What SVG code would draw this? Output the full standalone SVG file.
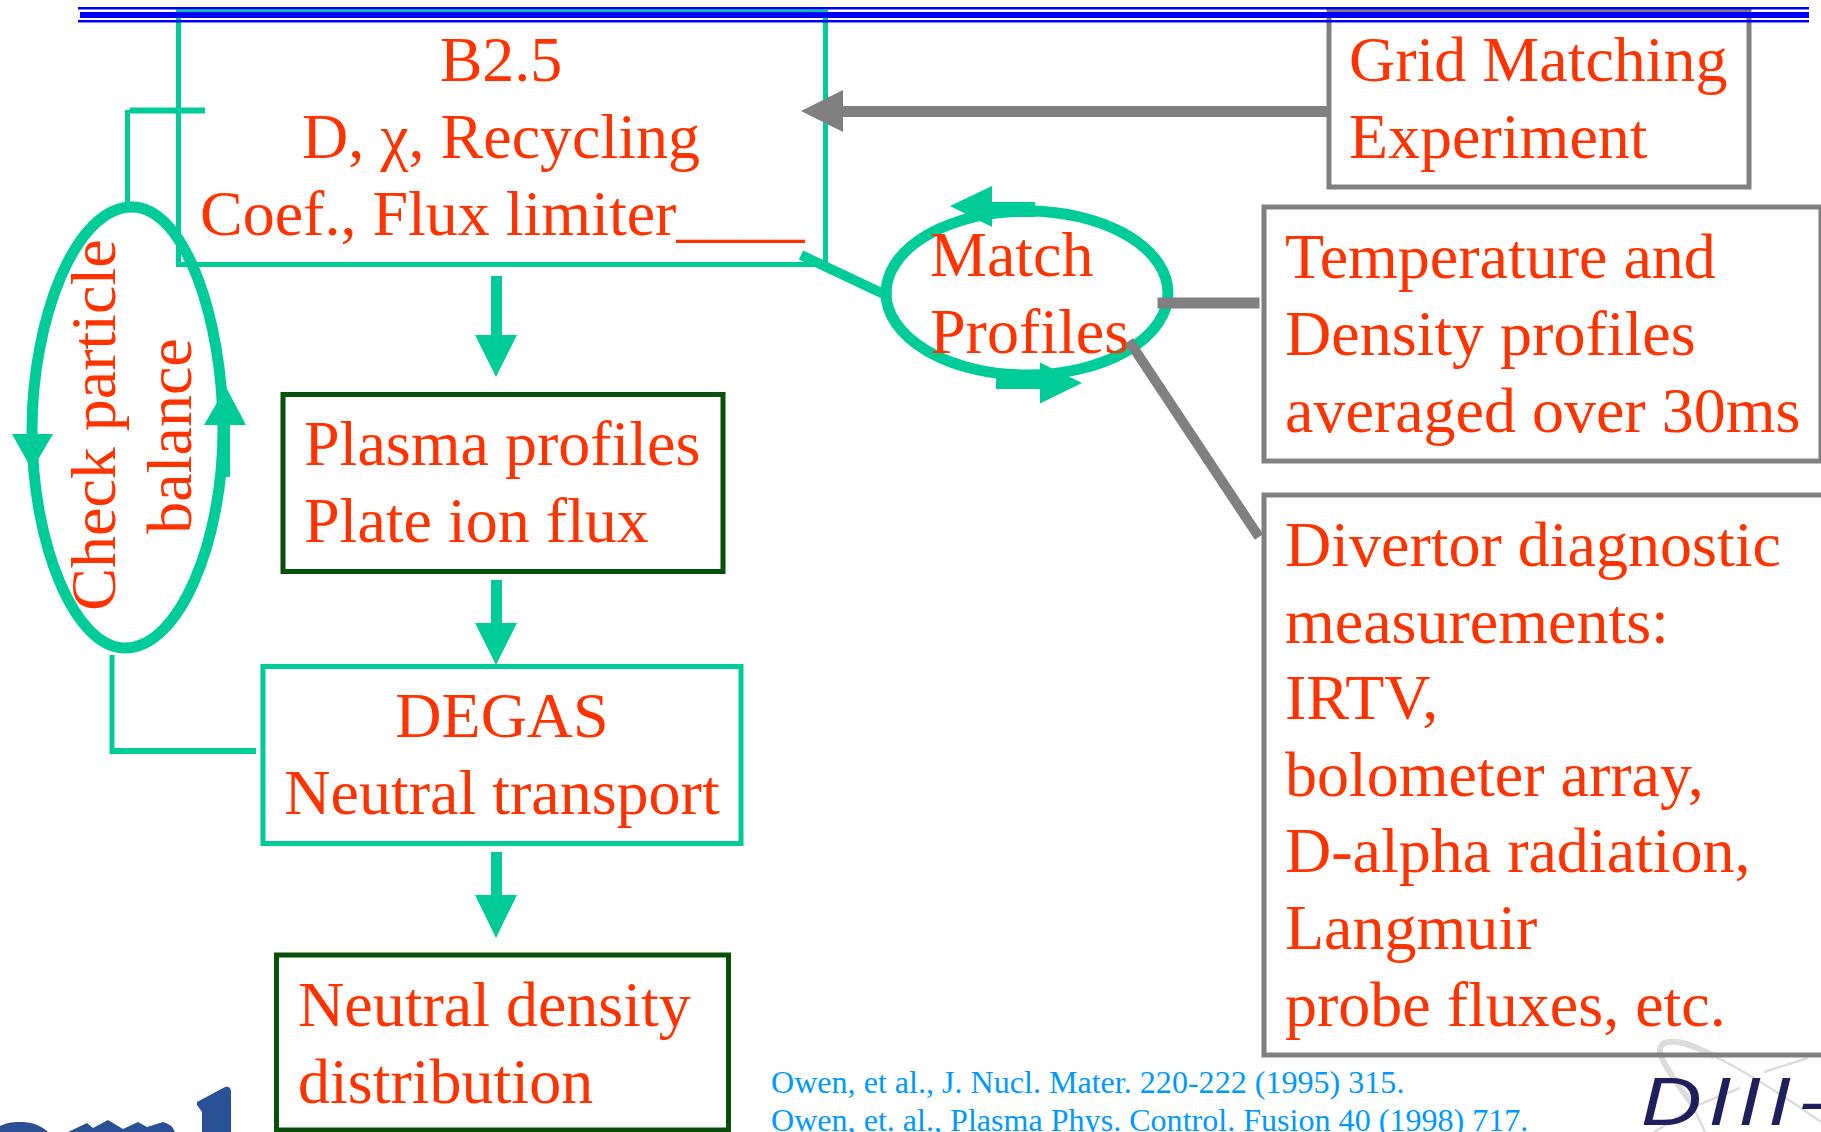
<svg xmlns="http://www.w3.org/2000/svg" width="1821" height="1132" viewBox="0 0 1821 1132">
<style>
text{font-family:"Liberation Serif","Times New Roman",serif;font-size:64px;fill:#ff3300}
.c{text-anchor:middle}
.ref{font-size:32.1px;fill:#0099ff}
.box{fill:none}
.g{stroke:#00cc99}
.d{stroke:#085008}
.y{stroke:#808080}
.ln{fill:none}
.hg{fill:#00cc99}
.hy{fill:#808080}
.sw{fill:none;stroke:#dcdcdc}
</style>
<rect width="1821" height="1132" fill="#fff"/>
<g id="logos">
<path d="M0 1132V1126C8 1122 14 1122 22 1122C32 1122 42 1126 48 1132ZM68 1132L87 1123L93 1128L108 1120L123 1129L138 1122L147 1127L163 1122Q172 1124 175 1132ZM202 1132V1112L197 1105V1102L225 1087Q231 1086 231 1092V1132Z" fill="#2a5195"/>
<path class="sw" stroke-width="6" d="M1714 1056C1695 1046 1680 1040 1668 1042C1658 1044 1658 1052 1664 1062C1670 1074 1680 1088 1692 1104"/>
<path class="sw" stroke-width="2.500" d="M1714 1056C1750 1074 1790 1100 1821 1122M1692 1104L1705 1132M1764 1072L1808 1058M1740 1088L1700 1104L1654 1132"/>
<text transform="translate(1641 1125) scale(1.22 1)" letter-spacing="5.300" style="font-family:'Liberation Sans',sans-serif;font-style:italic;font-size:69px;fill:#201f5e">DIII-</text>
</g>
<g id="b25">
<path class="box g" stroke-width="5" d="M178.500 10V264.500H825.500V10"/>
<rect x="176" y="9.500" width="652" height="2.500" fill="#00cc99"/>
<text class="c" x="501" y="80.500">B2.5</text>
<text class="c" x="501" y="157.500">D, χ, Recycling</text>
<text x="200" y="234.500">Coef., Flux limiter____</text>
</g>
<g id="grid">
<rect class="box y" x="1329" y="11" width="420" height="176" stroke-width="5"/>
<text x="1349" y="80.500">Grid Matching</text>
<text x="1349" y="157.500">Experiment</text>
</g>
<g id="temp">
<rect class="box y" x="1264" y="207" width="557" height="254" stroke-width="5"/>
<text x="1285" y="277.500">Temperature and</text>
<text x="1285" y="354.500">Density profiles</text>
<text x="1285" y="431.500">averaged over 30ms</text>
</g>
<g id="divertor">
<rect class="box y" x="1264" y="495" width="562" height="560" stroke-width="5"/>
<text x="1285" y="565.500">Divertor diagnostic</text>
<text x="1285" y="642.500">measurements:</text>
<text x="1285" y="718.500">IRTV,</text>
<text x="1285" y="795.500">bolometer array,</text>
<text x="1285" y="871.500">D-alpha radiation,</text>
<text x="1285" y="948.500">Langmuir</text>
<text x="1285" y="1025.500">probe fluxes, etc.</text>
</g>
<g id="plasma">
<rect class="box d" x="283" y="394.500" width="440" height="177" stroke-width="5"/>
<text x="304" y="464.500">Plasma profiles</text>
<text x="304" y="541.500">Plate ion flux</text>
</g>
<g id="degas">
<rect class="box g" x="263" y="666.500" width="478" height="177" stroke-width="5"/>
<text class="c" x="502" y="736.500">DEGAS</text>
<text class="c" x="502" y="813.500">Neutral transport</text>
</g>
<g id="neutral">
<rect class="box d" x="276.500" y="955" width="452" height="175" stroke-width="5"/>
<text x="298" y="1025.500">Neutral density</text>
<text x="298" y="1102.500">distribution</text>
</g>
<g id="match">
<ellipse class="box g" cx="1027" cy="293" rx="141" ry="82" stroke-width="11"/>
<text x="930" y="275.500">Match</text>
<text x="930" y="352.500">Profiles</text>
</g>
<g id="check">
<path class="box g" stroke-width="11" d="M132 207C75 207 32 320 32 430C32 545 75 648 125 648C180 648 223 540 223 430C223 320 185 207 132 207Z"/>
<text class="c" transform="translate(115 425) rotate(-90)">Check particle</text>
<text class="c" transform="translate(191 436) rotate(-90)">balance</text>
</g>
<g id="connectors">
<path class="ln g" stroke-width="5" d="M127.500 202V110"/>
<path class="ln g" stroke-width="6" d="M130 110.500H205"/>
<path class="ln g" stroke-width="5" d="M112 655V754"/>
<path class="ln g" stroke-width="6" d="M112 751H256"/>
<path class="ln g" stroke-width="10" d="M801 255L890 297"/>
<rect x="491" y="276" width="11" height="60" class="hg"/>
<polygon class="hg" points="475,335 517,335 496,377"/>
<rect x="491" y="580" width="11" height="44" class="hg"/>
<polygon class="hg" points="475,623 517,623 496,665"/>
<rect x="491" y="852" width="11" height="44" class="hg"/>
<polygon class="hg" points="475,895 517,895 496,938"/>
<polygon class="hg" points="12,434 53,434 32,470"/>
<polygon class="hg" points="204,425 246,425 226,387"/>
<rect x="218" y="424" width="12" height="53" class="hg"/>
<polygon class="hg" points="950,206 992,186 992,227"/>
<rect x="991" y="202" width="44" height="15" class="hg"/>
<polygon class="hg" points="1082,383 1040,362.500 1040,403.500"/>
<rect x="996" y="375" width="45" height="14" class="hg"/>
<rect x="842" y="106" width="487" height="11" class="hy"/>
<polygon class="hy" points="801,111 843,90 843,132"/>
<path class="ln y" stroke-width="11" d="M1157.500 303H1259.500"/>
<path class="ln y" stroke-width="10" d="M1129 341L1259 537"/>
</g>
<g id="refs">
<text class="ref" x="771" y="1093">Owen, et al., J. Nucl. Mater. 220-222 (1995) 315.</text>
<text class="ref" x="771" y="1131">Owen, et. al., Plasma Phys. Control. Fusion 40 (1998) 717.</text>
</g>
<g id="header">
<rect x="78" y="7" width="1731" height="2.500" fill="#0000ff"/>
<rect x="80" y="12" width="1729" height="6" fill="#0000ff"/>
<rect x="78" y="20" width="1731" height="2.500" fill="#0000ff"/>
</g>
</svg>
